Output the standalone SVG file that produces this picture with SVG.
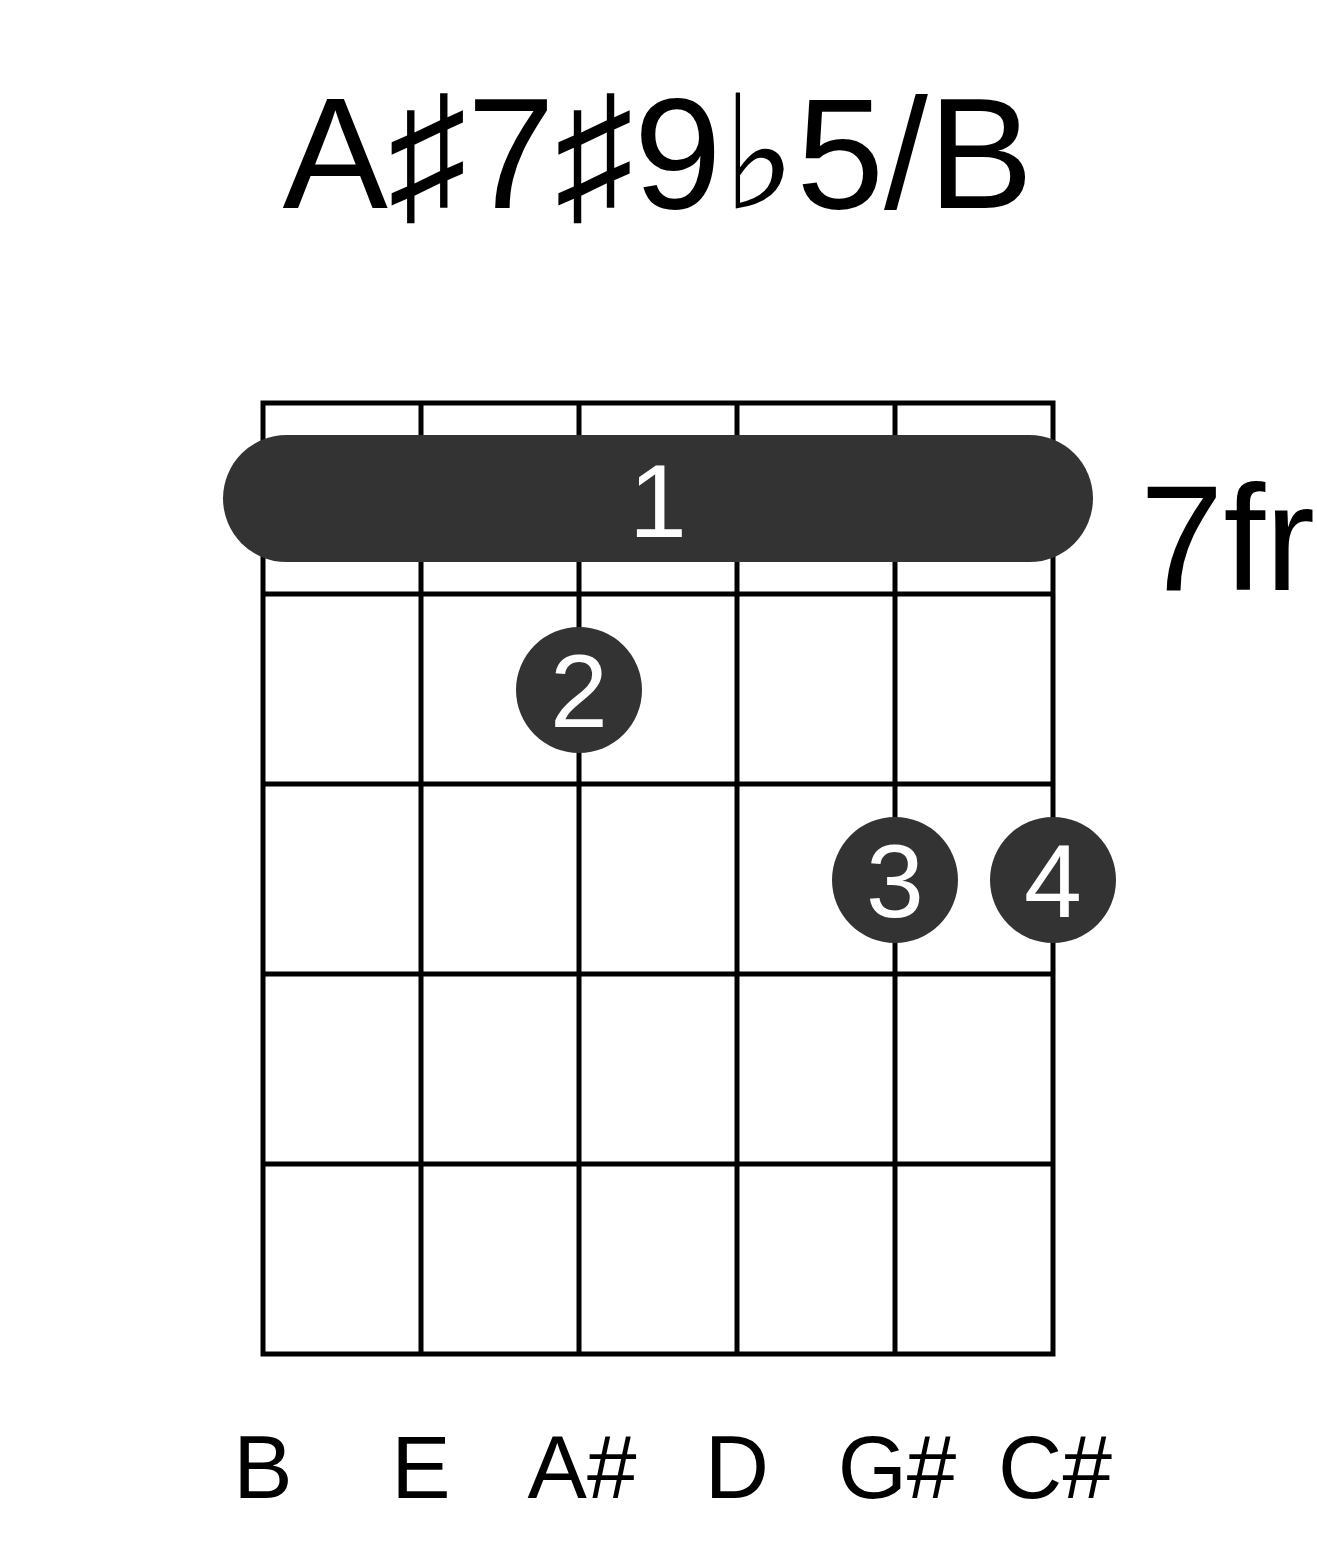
<svg xmlns="http://www.w3.org/2000/svg" width="1317" height="1551" viewBox="0 0 1317 1551">
<style>
.t{font-family:"Liberation Sans","DejaVu Sans",Arial,sans-serif;fill:#000}
.g{stroke:#000;stroke-width:5;fill:none}
.dot{fill:#333}
.n{font-family:"Liberation Sans",Arial,sans-serif;fill:#fff;font-size:104px;text-anchor:middle}
.lab{font-family:"Liberation Sans",Arial,sans-serif;font-size:89px;text-anchor:middle;fill:#000}
</style>
<rect width="1317" height="1551" fill="#fff"/>
<g id="title"><text class="t" x="658" y="208" font-size="158" text-anchor="middle">A♯7♯9♭5/B</text></g>
<g id="grid">
<rect class="g" x="263" y="403" width="790" height="951"/>
<path class="g" d="M421 403V1354M579 403V1354M737 403V1354M895 403V1354M263 594H1053M263 784H1053M263 974H1053M263 1164H1053"/>
</g>
<g id="barre"><rect class="dot" x="223" y="435" width="870" height="127" rx="63.5"/><text class="n" x="658" y="537">1</text></g>
<g id="finger2"><circle class="dot" cx="579" cy="690" r="63"/><text class="n" x="579" y="727">2</text></g>
<g id="finger3"><circle class="dot" cx="895" cy="880" r="63"/><text class="n" x="895" y="917">3</text></g>
<g id="finger4"><circle class="dot" cx="1053" cy="880" r="63"/><text class="n" x="1053" y="917">4</text></g>
<g id="fret"><text class="t" x="1140" y="590" font-size="150">7fr</text></g>
<g id="labels">
<text class="lab" x="263" y="1498">B</text>
<text class="lab" x="421" y="1498">E</text>
<text class="lab" x="582" y="1498">A#</text>
<text class="lab" x="737" y="1498">D</text>
<text class="lab" x="897" y="1498">G#</text>
<text class="lab" x="1055" y="1498">C#</text>
</g>
</svg>
